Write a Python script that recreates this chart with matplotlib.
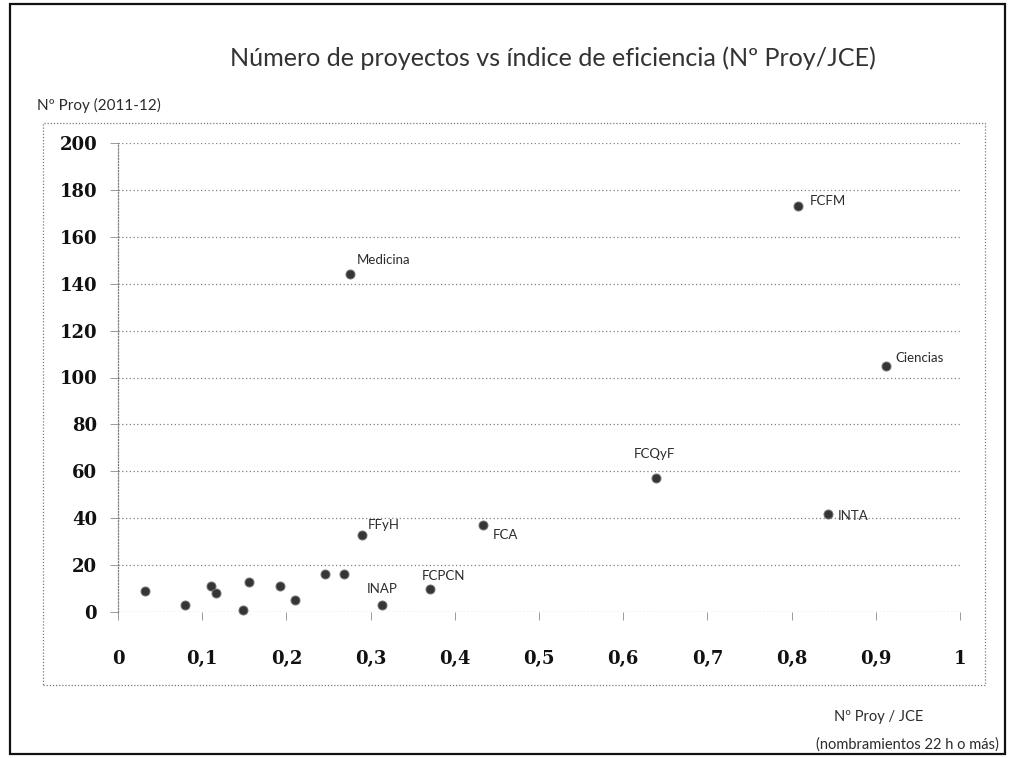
import matplotlib
matplotlib.use("Agg")
import matplotlib.pyplot as plt
from matplotlib.patches import Rectangle

# ---------------- data ----------------
x_vals = [0.032, 0.080, 0.111, 0.116, 0.148, 0.155, 0.192, 0.210, 0.246, 0.268,
          0.314, 0.370, 0.290, 0.433, 0.639, 0.843, 0.275, 0.808, 0.912]
y_vals = [9, 3, 11, 8, 1, 13, 11, 5, 16, 16,
          3, 10, 33, 37, 57, 42, 144, 173, 105]
point_labels = ['', '', '', '', '', '', '', '', '', '',
                'INAP', 'FCPCN', 'FFyH', 'FCA', 'FCQyF', 'INTA', 'Medicina', 'FCFM', 'Ciencias']
x_ticks = [0, 0.1, 0.2, 0.3, 0.4, 0.5, 0.6, 0.7, 0.8, 0.9, 1]
x_tick_labels = ['0', '0,1', '0,2', '0,3', '0,4', '0,5', '0,6', '0,7', '0,8', '0,9', '1']
y_ticks = [0, 20, 40, 60, 80, 100, 120, 140, 160, 180, 200]
title = 'Número de proyectos vs índice de eficiencia (Nº Proy/JCE)'
y_title = 'Nº Proy (2011-12)'
x_title_1 = 'Nº Proy / JCE'
x_title_2 = '(nombramientos 22 h o más)'

# label placement (offset pixels, alignment) -- layout only
label_style = {
    'INAP': (0, 16, 'center'),
    'FCPCN': (14, 13, 'center'),
    'FFyH': (6, 10, 'left'),
    'FCA': (10, -10, 'left'),
    'FCQyF': (-2, 24, 'center'),
    'INTA': (10, -2, 'left'),
    'Medicina': (7, 14, 'left'),
    'FCFM': (11, 5, 'left'),
    'Ciencias': (9, 8, 'left'),
}

W, H = 1011, 758
sans = ['Lato', 'DejaVu Sans']
serif = ['DejaVu Serif']
txt_col = '#2b2b2b'

fig = plt.figure(figsize=(W / 100, H / 100), dpi=100)
fig.patch.set_facecolor('white')

# outer solid frame
fig.patches.append(Rectangle((10 / W, 1 - 754 / H), (1005 - 10) / W, (754 - 4) / H,
                             transform=fig.transFigure, fill=False,
                             edgecolor='#111111', linewidth=1.6))
# dotted plot-area border
fig.patches.append(Rectangle((43 / W, 1 - 685 / H), (985 - 43) / W, (685 - 123) / H,
                             transform=fig.transFigure, fill=False,
                             edgecolor='#7a7a7a', linewidth=0.9, linestyle=(0, (1, 1.5))))

ax = fig.add_axes([118 / W, 1 - 612 / H, (960 - 118) / W, (612 - 143) / H])
ax.set_xlim(0, 1)
ax.set_ylim(0, 200)

for yt in y_ticks:
    ax.axhline(yt, color='#808080', linewidth=0.9, linestyle=(0, (1, 2)), zorder=1)

for s in ['top', 'right', 'bottom']:
    ax.spines[s].set_visible(False)
ax.spines['left'].set_color('#808080')
ax.spines['left'].set_linewidth(0.9)
ax.spines['left'].set_linestyle((0, (1, 1.5)))

ax.set_xticks(x_ticks)
ax.set_xticklabels(x_tick_labels)
ax.set_yticks(y_ticks)
ax.set_yticklabels([str(v) for v in y_ticks])
ax.tick_params(axis='x', length=6, width=0.7, color='#9a9a9a', pad=21,
               labelsize=13, labelcolor='#111111')
ax.tick_params(axis='y', length=6, width=0.7, color='#9a9a9a', pad=9,
               labelsize=13, labelcolor='#111111')
for lab in ax.get_xticklabels() + ax.get_yticklabels():
    lab.set_fontfamily(serif)
    lab.set_fontweight('bold')

ax.scatter(x_vals, y_vals, s=42, color='#353535', edgecolors='#707070',
           linewidths=0.7, zorder=3, clip_on=False)

for xv, yv, name in zip(x_vals, y_vals, point_labels):
    if not name:
        continue
    dx, dy, ha = label_style[name]
    ax.annotate(name, (xv, yv), xytext=(dx, dy), textcoords='offset pixels',
                ha=ha, va='center', fontsize=9.5, family=sans, color=txt_col, zorder=4)

# title fitted to target width
t = fig.text(553 / W, 1 - 58 / H, title, ha='center', va='center',
             fontsize=16, family=sans, color='#333333')
fig.canvas.draw()
r = fig.canvas.get_renderer()
wpx = t.get_window_extent(r).width
t.set_fontsize(16 * 650 / wpx)

fig.text(37 / W, 1 - 105 / H, y_title, ha='left', va='center',
         fontsize=11, family=sans, color=txt_col)
fig.text(879 / W, 1 - 717 / H, x_title_1, ha='center', va='center',
         fontsize=10.5, family=sans, color=txt_col)
fig.text(999 / W, 1 - 745 / H, x_title_2, ha='right', va='center',
         fontsize=10.5, family=sans, color=txt_col)

fig.savefig('out.png', dpi=100, facecolor='white')
